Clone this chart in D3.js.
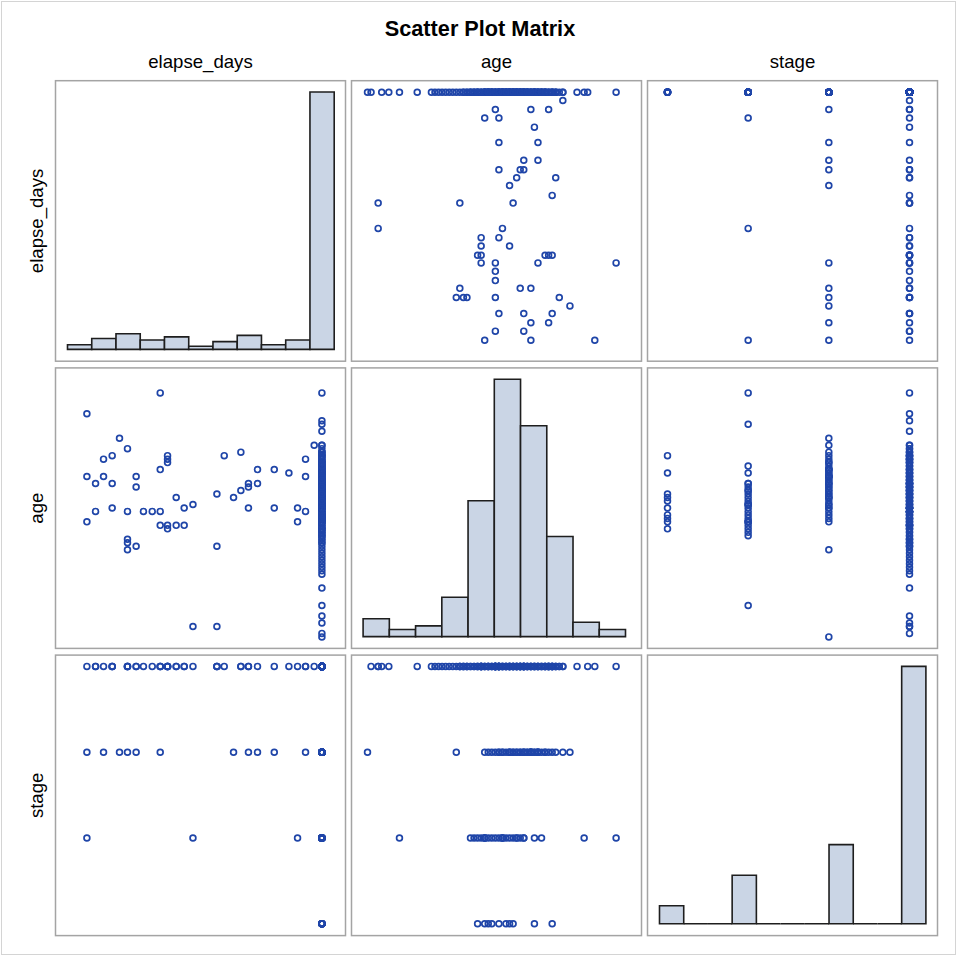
<!DOCTYPE html>
<html>
<head>
<meta charset="utf-8">
<title>Scatter Plot Matrix</title>
<script src="https://cdn.jsdelivr.net/npm/d3@7"></script>
<style>
    body { margin: 0; background: #fff; }
    #chart { width: 957px; height: 956px; }
    text { font-family: "Liberation Sans", Arial, sans-serif; fill: #000; }
</style>
</head>
<body>
<div id="chart"></div>
<script>

// variables shown in the matrix (rows / columns)
const varNames = ["elapse_days", "age", "stage"];

// subjects with an event before end of follow-up
const eventDays = [60, 60, 60, 125, 125, 185, 185, 250, 250, 250, 305, 365, 365, 365, 365, 365,
    430, 430, 430, 485, 551, 611, 611, 611, 611, 666, 666, 666, 666, 666, 731, 731, 791, 791,
    857, 857, 1037, 1037, 1037, 1092, 1162, 1217, 1217, 1274, 1274, 1274, 1342, 1342, 1468, 1468,
    1578, 1643, 1643, 1703, 1703, 1703, 1768];
const eventAge = [84, 66, 53, 64, 56, 71, 66, 72, 64, 57, 77, 74, 56, 48, 47, 45,
    66, 63, 46, 56, 56, 90, 68, 56, 52, 72, 71, 70, 52, 51, 60, 52, 57, 52,
    58, 23, 61, 46, 23, 72, 60, 73, 62, 64, 63, 57, 68, 64, 68, 57,
    67, 57, 53, 71, 66, 56, 75];
const eventStage = [4, 3, 2, 4, 4, 4, 3, 4, 4, 4, 3, 4, 4, 4, 4, 3,
    3, 4, 4, 4, 4, 4, 3, 4, 4, 4, 4, 4, 4, 4, 4, 4, 4, 4,
    2, 4, 4, 4, 4, 4, 3, 4, 4, 3, 4, 4, 3, 4, 4, 3,
    4, 4, 2, 4, 3, 4, 4];

// subjects still followed at the end (elapse_days = 1826), ages by stage
const censoredDays = 1826;
const censoredAgeStage1 = [72, 67, 61, 60, 59, 57, 55, 54, 53, 51];
const censoredAgeStage2 = [90, 81, 69, 67, 29, 64, 64, 63, 62, 62, 61, 60, 59, 58, 58, 57, 56, 55,
    54, 53, 52, 51, 50, 49];
const censoredAgeStage3 = [20, 75, 73, 72, 71, 70, 70, 69, 68, 68, 67, 67, 66, 65, 65, 64, 64, 63,
    63, 62, 62, 61, 61, 60, 60, 59, 58, 58, 57, 56, 55, 54, 53];
const censoredAgeStage4 = [82, 79, 34, 26, 24, 21,
    38, 39, 40, 41, 42, 43, 44, 45, 46, 47, 47, 48, 48, 49, 49, 50, 50,
    51, 51, 52, 52, 53, 53, 53, 54, 54, 54, 55, 55, 55, 56, 56, 56, 57, 57, 57, 58,
    58, 58, 59, 59, 59, 60, 60, 60, 61, 61, 61, 62, 62, 62, 63, 63, 63, 64, 64, 64,
    65, 65, 65, 66, 66, 66, 67, 67, 67, 68, 68, 68, 69, 69, 69, 70, 70, 70, 71, 71,
    72, 72, 73, 73, 74, 75, 54, 58, 60, 62, 64, 66, 59, 61, 63, 65, 57];

// histogram bin counts on the diagonal
const elapseCounts = [3, 7, 10, 6, 8, 2, 5, 9, 3, 6, 165];
const ageCounts = [5, 2, 3, 11, 38, 72, 59, 28, 4, 2];
const stageCounts = [10, 0, 0, 27, 0, 0, 0, 44, 0, 0, 143];


class ScatterMatrixVis {

    constructor(parentElement) {
        this.parentElement = parentElement;
        this.histCounts = {elapse_days: elapseCounts, age: ageCounts, stage: stageCounts};
        this.initVis();
    }

    initVis() {
        let vis = this;

        vis.width = 957;
        vis.height = 956;

        // cell grid
        vis.cell = {x0: 55.5, y0: 80.7, w: 290, h: 280.5, stepX: 296, stepY: 287.2};

        // value ranges and pixel offsets inside a cell
        vis.domains = {elapse_days: [60, 1826], age: [20, 90], stage: [1, 4]};
        vis.xPad = {elapse_days: [31.4, 266.4], age: [16, 264.6], stage: [20, 262]};
        vis.yPad = {elapse_days: [259.6, 11.6], age: [269, 25], stage: [268.7, 11.3]};
        vis.histX = {elapse_days: [12, 278.7], age: [11.6, 274], stage: [12, 278.4]};
        vis.histY = [268.7, 11.3];

        vis.svg = d3.select("#" + vis.parentElement).append("svg")
            .attr("width", vis.width)
            .attr("height", vis.height);

        // outer frame
        vis.svg.append("rect")
            .attr("x", 1.5).attr("y", 1.5)
            .attr("width", vis.width - 3).attr("height", vis.height - 3)
            .attr("fill", "#fff")
            .attr("stroke", "#d4d4d4");

        vis.svg.append("text")
            .attr("x", 480).attr("y", 36)
            .attr("text-anchor", "middle")
            .style("font-size", "21.7px")
            .style("font-weight", "bold")
            .text("Scatter Plot Matrix");

        // column headers
        vis.svg.selectAll(".col-label")
            .data(varNames)
            .enter().append("text")
            .attr("class", "col-label")
            .attr("x", (d, i) => vis.cell.x0 + i * vis.cell.stepX + vis.cell.w / 2)
            .attr("y", 67.5)
            .attr("text-anchor", "middle")
            .style("font-size", "18.6px")
            .text(d => d);

        // row headers
        vis.svg.selectAll(".row-label")
            .data(varNames)
            .enter().append("text")
            .attr("class", "row-label")
            .attr("transform", (d, i) => "translate(43," + (vis.cell.y0 + i * vis.cell.stepY + vis.cell.h / 2) + ") rotate(-90)")
            .attr("text-anchor", "middle")
            .style("font-size", "18.6px")
            .text(d => d);

        vis.wrangleData();
    }

    wrangleData() {
        let vis = this;

        vis.records = eventDays.map((d, i) => ({elapse_days: d, age: eventAge[i], stage: eventStage[i]}));

        [censoredAgeStage1, censoredAgeStage2, censoredAgeStage3, censoredAgeStage4].forEach((ages, s) => {
            ages.forEach(a => vis.records.push({elapse_days: censoredDays, age: a, stage: s + 1}));
        });

        vis.cells = [];
        varNames.forEach((rowVar, r) => {
            varNames.forEach((colVar, c) => {
                vis.cells.push({row: r, col: c, rowVar: rowVar, colVar: colVar});
            });
        });

        vis.updateVis();
    }

    updateVis() {
        let vis = this;

        const cells = vis.svg.selectAll(".cell")
            .data(vis.cells)
            .enter().append("g")
            .attr("class", "cell")
            .attr("transform", d => `translate(${vis.cell.x0 + d.col * vis.cell.stepX}, ${vis.cell.y0 + d.row * vis.cell.stepY})`);

        cells.each(function(d) {
            let g = d3.select(this);

            if (d.row === d.col) {
                // histogram (paths so that empty bins still show on the baseline)
                let counts = vis.histCounts[d.rowVar];
                let x = d3.scaleLinear().domain([0, counts.length]).range(vis.histX[d.rowVar]);
                let y = d3.scaleLinear().domain([0, d3.max(counts)]).range(vis.histY);

                g.selectAll(".bar")
                    .data(counts)
                    .enter().append("path")
                    .attr("class", "bar")
                    .attr("d", (v, i) => `M${x(i)},${y(0)}V${y(v)}H${x(i + 1)}V${y(0)}Z`)
                    .attr("fill", "#cad5e5")
                    .attr("stroke", "#1e1e1e")
                    .attr("stroke-width", 1.6);
            } else {
                let x = d3.scaleLinear().domain(vis.domains[d.colVar]).range(vis.xPad[d.colVar]);
                let y = d3.scaleLinear().domain(vis.domains[d.rowVar]).range(vis.yPad[d.rowVar]);

                g.selectAll(".dot")
                    .data(vis.records)
                    .enter().append("circle")
                    .attr("class", "dot")
                    .attr("cx", p => x(p[d.colVar]))
                    .attr("cy", p => y(p[d.rowVar]))
                    .attr("r", 2.9)
                    .attr("fill", "none")
                    .attr("stroke", "#1f45a8")
                    .attr("stroke-width", 1.7);
            }

            g.append("rect")
                .attr("width", vis.cell.w)
                .attr("height", vis.cell.h)
                .attr("fill", "none")
                .attr("stroke", "#a4a4a4")
                .attr("stroke-width", 1.5);
        });
    }
}

new ScatterMatrixVis("chart");

</script>
</body>
</html>
